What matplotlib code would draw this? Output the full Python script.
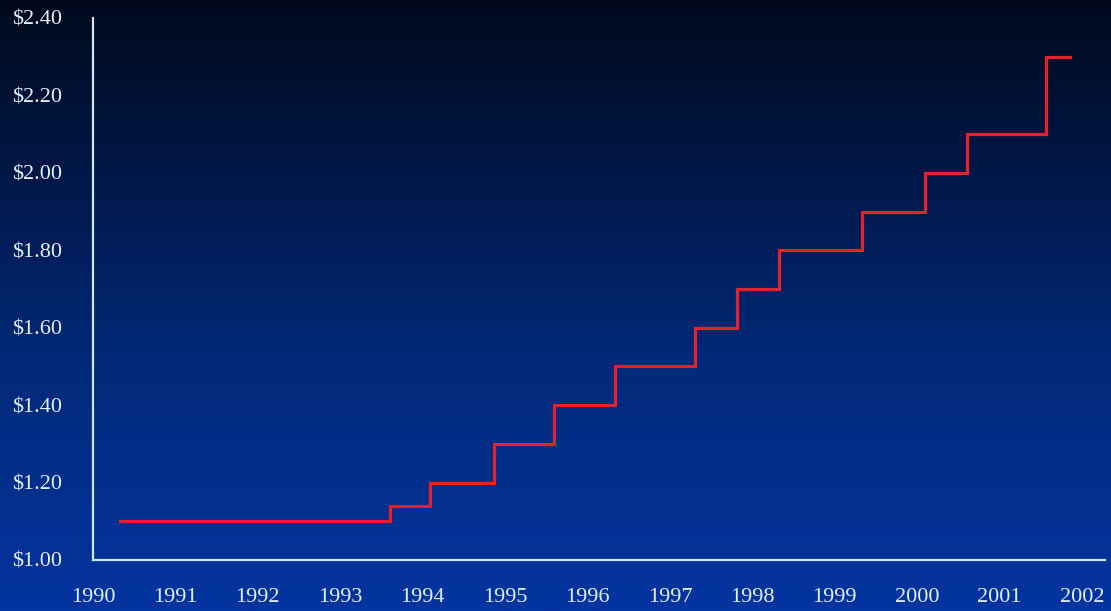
import numpy as np
import matplotlib
matplotlib.use("Agg")
import matplotlib.pyplot as plt
from matplotlib.colors import LinearSegmentedColormap

# Data: dates (fractional years) at which the price changed, and the new price
change_years = [1990.33, 1993.60, 1994.09, 1994.87, 1995.59, 1996.33, 1997.31,
                1997.82, 1998.32, 1999.33, 2000.10, 2000.61, 2001.57, 2001.85]
prices = [1.10, 1.14, 1.20, 1.30, 1.40, 1.50, 1.60,
          1.70, 1.80, 1.90, 2.00, 2.10, 2.30, 2.30]
year_ticks = list(range(1990, 2003))
price_ticks = [1.00, 1.20, 1.40, 1.60, 1.80, 2.00, 2.20, 2.40]
price_labels = ["$1.00", "$1.20", "$1.40", "$1.60", "$1.80", "$2.00", "$2.20", "$2.40"]

fig = plt.figure(figsize=(11.11, 6.11), dpi=100)

# Background gradient
bg = fig.add_axes([0, 0, 1, 1], zorder=0)
cmap = LinearSegmentedColormap.from_list(
    "bg", [(0.0, "#000a1c"), (0.3, "#01184a"), (0.6, "#022a7a"), (1.0, "#0434a0")])
grad = np.linspace(0, 1, 256).reshape(-1, 1)
bg.imshow(grad, aspect="auto", cmap=cmap, extent=[0, 1, 1, 0])
bg.set_axis_off()

ax = fig.add_axes([93 / 1111, 1 - 560 / 611, (1105 - 93) / 1111, (560 - 18) / 611], zorder=1)
ax.patch.set_alpha(0)

ax.step(change_years, prices, where="post", color="#e8202c", lw=2.3, solid_joinstyle="miter")

ax.set_xlim(1990.03, 2002.28)
ax.set_ylim(1.0, 2.4)
ax.set_xticks(year_ticks)
ax.set_xticklabels([str(y) for y in year_ticks])
ax.set_yticks(price_ticks)
ax.set_yticklabels(price_labels)

spine_col = "#cfe8f2"
for s in ["top", "right"]:
    ax.spines[s].set_visible(False)
for s in ["left", "bottom"]:
    ax.spines[s].set_color(spine_col)
    ax.spines[s].set_linewidth(1.6)

ax.tick_params(axis="both", length=0, colors="#e4eff5", labelsize=16)
ax.tick_params(axis="y", pad=22)
ax.tick_params(axis="x", pad=20)
for lab in ax.get_xticklabels() + ax.get_yticklabels():
    lab.set_family("Liberation Serif")

fig.savefig("out.png", dpi=100)
